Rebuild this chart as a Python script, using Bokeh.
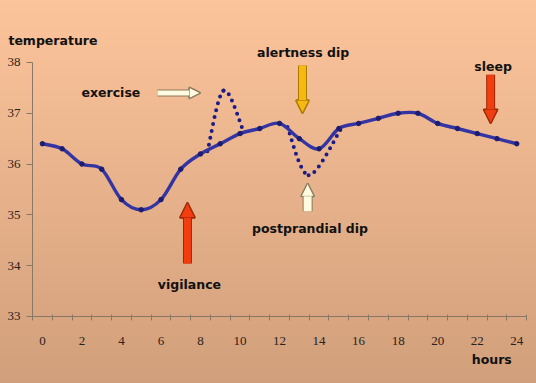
from bokeh.plotting import figure
from bokeh.models import FixedTicker, Label, Arrow, NormalHead, Range1d
from bokeh.embed import file_html
from bokeh.resources import INLINE

# ---- data ----
hours = list(range(25))
temperature = [36.4, 36.3, 36.0, 35.9, 35.3, 35.1, 35.3, 35.9, 36.2, 36.4, 36.6, 36.7, 36.8,
               36.5, 36.3, 36.7, 36.8, 36.9, 37.0, 37.0, 36.8, 36.7, 36.6, 36.5, 36.4]
exercise_x = [8.35, 9.17, 10.18]
exercise_y = [36.25, 37.45, 36.64]
dip_x = [12.4, 13.47, 15.09]
dip_y = [36.73, 35.78, 36.68]
x_tick_labels = [0, 2, 4, 6, 8, 10, 12, 14, 16, 18, 20, 22, 24]
y_ticks = [33, 34, 35, 36, 37, 38]

# annotations: (text, x, y, align)
labels = [
    ("temperature", -1.72, 38.43, "left"),
    ("exercise", 1.98, 37.40, "left"),
    ("alertness dip", 13.19, 38.19, "center"),
    ("sleep", 22.8, 37.92, "center"),
    ("vigilance", 7.44, 33.63, "center"),
    ("postprandial dip", 13.54, 34.73, "center"),
    ("hours", 23.75, 32.15, "right"),
]
# arrows: (x_start, y_start, x_end, y_end, fill, outline, shaft width, head size)
arrows = [
    (5.83, 37.40, 7.99, 37.40, "#fffbe0", "#8c7b5e", 5, 11),
    (13.16, 37.94, 13.16, 37.00, "#f7b812", "#a87a00", 7, 13),
    (22.68, 37.76, 22.68, 36.80, "#f23d0e", "#9c2a08", 7, 14),
    (7.34, 34.04, 7.34, 35.24, "#f23d0e", "#9c2a08", 7, 15),
    (13.42, 35.07, 13.42, 35.62, "#fffbe0", "#8c7b5e", 8, 13),
]


def smooth(xs, ys):
    n = len(xs)
    d = dict(x0=[], y0=[], x1=[], y1=[], cx0=[], cy0=[], cx1=[], cy1=[])
    for i in range(n - 1):
        a = max(i - 1, 0)
        b = min(i + 2, n - 1)
        d["x0"].append(xs[i]); d["y0"].append(ys[i])
        d["x1"].append(xs[i + 1]); d["y1"].append(ys[i + 1])
        d["cx0"].append(xs[i] + (xs[i + 1] - xs[a]) / 6.0)
        d["cy0"].append(ys[i] + (ys[i + 1] - ys[a]) / 6.0)
        d["cx1"].append(xs[i + 1] - (xs[b] - xs[i]) / 6.0)
        d["cy1"].append(ys[i + 1] - (ys[b] - ys[i]) / 6.0)
    return d


p = figure(width=536, height=383, output_backend="svg", toolbar_location=None,
           x_range=Range1d(-2.12, 25.0), y_range=Range1d(31.68, 39.22),
           min_border=0)
p.background_fill_color = None
p.border_fill_color = None
p.outline_line_color = None
p.styles = {"background": "linear-gradient(to bottom, #fcc49b 0%, #d19f7b 100%)"}
p.xgrid.visible = False
p.ygrid.visible = False

axis_col = "#8a7866"
p.yaxis.fixed_location = -0.5
p.yaxis.bounds = (33, 38)
p.xaxis.fixed_location = 33
p.xaxis.bounds = (-0.5, 24.5)
p.yaxis.ticker = FixedTicker(ticks=y_ticks)
p.yaxis.major_tick_in = 0
p.yaxis.major_tick_out = 6
p.yaxis.minor_tick_line_color = None
p.yaxis.major_label_standoff = 6
p.xaxis.ticker = FixedTicker(ticks=x_tick_labels, minor_ticks=[h - 0.5 for h in range(26)])
p.xaxis.major_tick_in = 0
p.xaxis.major_tick_out = 0
p.xaxis.minor_tick_in = 2
p.xaxis.minor_tick_out = 4
p.xaxis.major_label_standoff = 17
for ax in (p.xaxis, p.yaxis):
    ax.axis_line_color = axis_col
    ax.major_tick_line_color = axis_col
    ax.major_label_text_font = "Liberation Serif"
    ax.major_label_text_font_size = "13px"
    ax.major_label_text_color = "#2a221c"
p.xaxis.minor_tick_line_color = axis_col

# dotted variants
for xs, ys in ((exercise_x, exercise_y), (dip_x, dip_y)):
    p.bezier(**smooth(xs, ys), line_color="#1c1c86", line_width=4,
             line_dash="0 7", line_cap="round")

# main smoothed curve
p.bezier(**smooth(hours, temperature), line_color="#3434a2", line_width=3.4, line_cap="round")
p.scatter(hours, temperature, size=4.5, color="#1c1c70")

for x0, y0, x1, y1, fill, edge, w, s in arrows:
    p.add_layout(Arrow(x_start=x0, y_start=y0, x_end=x1, y_end=y1, line_color=edge,
                       line_width=w + 2,
                       end=NormalHead(size=s, fill_color=edge, line_color=edge, line_width=2)))
    p.add_layout(Arrow(x_start=x0, y_start=y0, x_end=x1, y_end=y1, line_color=fill,
                       line_width=w,
                       end=NormalHead(size=s, fill_color=fill, line_color=edge, line_width=1)))

for txt, x, y, align in labels:
    p.add_layout(Label(x=x, y=y, text=txt, text_align=align, text_baseline="middle",
                       text_font="DejaVu Sans", text_font_style="bold",
                       text_font_size="12.5px", text_color="#111111"))

open("out.html", "w").write(file_html(p, INLINE))
